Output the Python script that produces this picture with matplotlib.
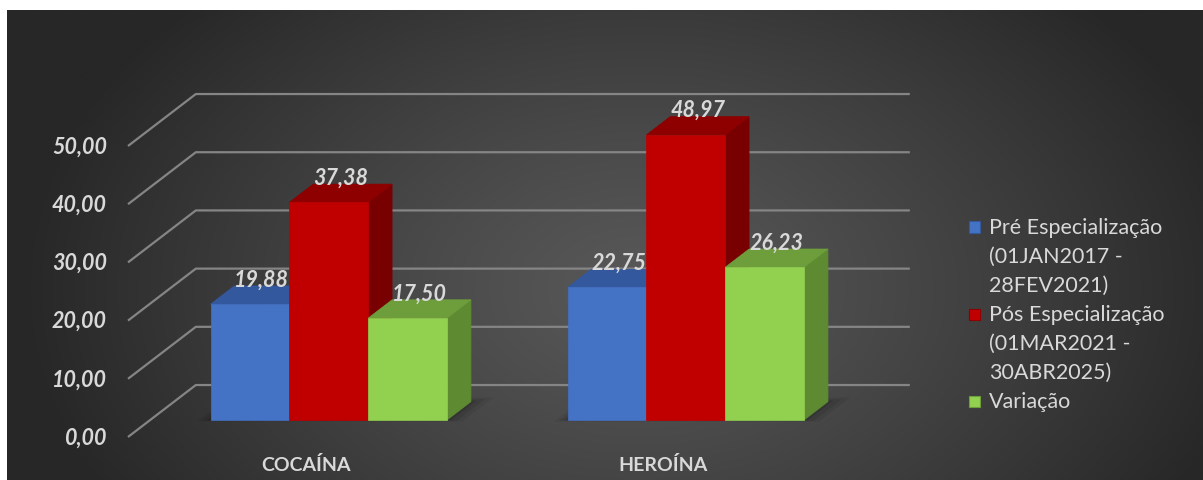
import numpy as np
import matplotlib
matplotlib.use("Agg")
import matplotlib.pyplot as plt
from matplotlib.patches import Polygon, Rectangle

# ---------------- data ----------------
categories = ["COCAÍNA", "HEROÍNA"]
series_names = ["Pré Especialização\n(01JAN2017 -\n28FEV2021)",
                "Pós Especialização\n(01MAR2021 -\n30ABR2025)",
                "Variação"]
pre_values = [19.88, 22.75]
pos_values = [37.38, 48.97]
var_values = [17.50, 26.23]
y_ticks = [0, 10, 20, 30, 40, 50]
y_tick_labels = ["0,00", "10,00", "20,00", "30,00", "40,00", "50,00"]

series_values = [pre_values, pos_values, var_values]
front_colors = ["#4472C4", "#C00000", "#92D050"]
top_colors = ["#33589E", "#8E0000", "#6E9E3C"]
side_colors = ["#2A4A85", "#780000", "#5E8A32"]

FONT = ["Lato", "DejaVu Sans"]
TXT = "#D9D9D9"

# ---------------- figure / axes ----------------
W, H = 1203, 481
fig = plt.figure(figsize=(W / 100, H / 100), dpi=100, facecolor="white")
ax = fig.add_axes([0, 0, 1, 1])
ax.set_axis_off()

SX = 357.0      # px per category unit
SY = 5.82       # px per value unit
X0 = 306.5      # px of category 0 at front plane
Y0 = 438.0      # px (from top) of value 0 at front plane
ax.set_xlim(-X0 / SX, (W - X0) / SX)
ax.set_ylim(-(H - Y0) / SY, Y0 / SY)

DX = 0.19   # depth offset (category units) for full depth
DV = 8.93   # depth offset (value units) for full depth


def P(x, v, z):
    return (x + DX * z, v + DV * z)


# background radial gradient in dark frame
x_a, x_b = ax.get_xlim()
y_a, y_b = ax.get_ylim()
fx0, fx1 = 7, W
fy0, fy1 = 11, H
ext = [x_a + fx0 / SX, x_a + fx1 / SX, y_b - fy1 / SY, y_b - fy0 / SY]
ny, nx = 300, 700
gx, gy = np.meshgrid(np.linspace(fx0, fx1, nx), np.linspace(fy0, fy1, ny))
r = np.sqrt(((gx - 640) / 620.0) ** 2 + ((gy - 290) / 420.0) ** 2)
r = np.clip(r, 0, 1)
c_in, c_out = 0x58, 0x27
val = (c_in + (c_out - c_in) * r ** 1.2) / 255.0
img = np.dstack([val, val, val])
ax.imshow(img, extent=ext, aspect="auto", zorder=0, interpolation="bilinear")

# gridlines (floor diagonal + back wall)
XL, XR = -0.5, 1.5
for v in y_ticks:
    pts = [P(XL, v, 0), P(XL, v, 1), P(XR, v, 1)]
    ax.plot([p[0] for p in pts], [p[1] for p in pts], color="#858585",
            lw=1.6, zorder=1, solid_capstyle="butt")

# tick labels
for v, lab in zip(y_ticks, y_tick_labels):
    ax.text(XL - 0.059, v, lab, ha="right", va="center", fontsize=15.5,
            fontweight="bold", fontstyle="italic", color=TXT, family=FONT)

# bars
BW = 0.221
Z0, Z1 = 0.33, 0.68
n_series = len(series_values)
for ci, cat in enumerate(categories):
    xs = [ci + (k - (n_series - 1) / 2) * BW for k in range(n_series)]
    # soft floor shadow
    xl = xs[0] - BW / 2
    xr = xs[-1] + BW / 2
    for grow, a in [(0.04, 0.06), (0.025, 0.08), (0.01, 0.12)]:
        sh = [P(xl - grow * 0.8, 0, Z0 - grow * 0.8), P(xr + grow * 1.2, 0, Z0 - grow * 0.8),
              P(xr + grow * 1.2, 0, Z1 + grow * 2), P(xl - grow * 0.8, 0, Z1 + grow * 2)]
        ax.add_patch(Polygon(sh, closed=True, facecolor="black", edgecolor="none",
                             alpha=a, zorder=2))
    for k in range(n_series):
        h = series_values[k][ci]
        x0 = xs[k] - BW / 2
        x1 = xs[k] + BW / 2
        z_order = 3 + k
        top = [P(x0, h, Z0), P(x1, h, Z0), P(x1, h, Z1), P(x0, h, Z1)]
        side = [P(x1, 0, Z0), P(x1, 0, Z1), P(x1, h, Z1), P(x1, h, Z0)]
        ax.add_patch(Polygon(side, closed=True, facecolor=side_colors[k],
                             edgecolor=side_colors[k], lw=0.5, zorder=z_order))
        ax.add_patch(Polygon(top, closed=True, facecolor=top_colors[k],
                             edgecolor=top_colors[k], lw=0.5, zorder=z_order))
        fx, fb = P(xs[k], 0, Z0)
        ax.bar(fx, h, width=BW, bottom=fb, color=front_colors[k],
               edgecolor=front_colors[k], lw=0.5, zorder=z_order + 0.1)
        lx, ly = P(xs[k], h, (Z0 + Z1) / 2)
        ax.text(lx, h + DV * Z1 + 1.2, f"{h:.2f}".replace(".", ","),
                ha="center", va="center", fontsize=15.5, fontweight="bold",
                fontstyle="italic", color=TXT, family=FONT, zorder=10)
    ax.text(ci, -(465 - Y0) / SY, cat, ha="center", va="center", fontsize=14,
            fontweight="bold", color=TXT, family=FONT)

# legend (manual)
leg_x_mark, leg_x_text = 969, 989
line_h = 29
y_start = 228
line_idx = 0
for k, name in enumerate(series_names):
    yc = y_start + line_idx * line_h
    fig.patches.append(Rectangle((leg_x_mark / W, 1 - (yc + 5.5) / H), 11 / W, 11 / H,
                                 transform=fig.transFigure, facecolor=front_colors[k],
                                 edgecolor=top_colors[k], lw=0.8))
    for j, line in enumerate(name.split("\n")):
        fig.text(leg_x_text / W, 1 - (yc + j * line_h) / H, line, ha="left",
                 va="center", fontsize=15.5, color=TXT, family=FONT)
    line_idx += len(name.split("\n"))

fig.savefig("out.png", dpi=100, facecolor="white")
